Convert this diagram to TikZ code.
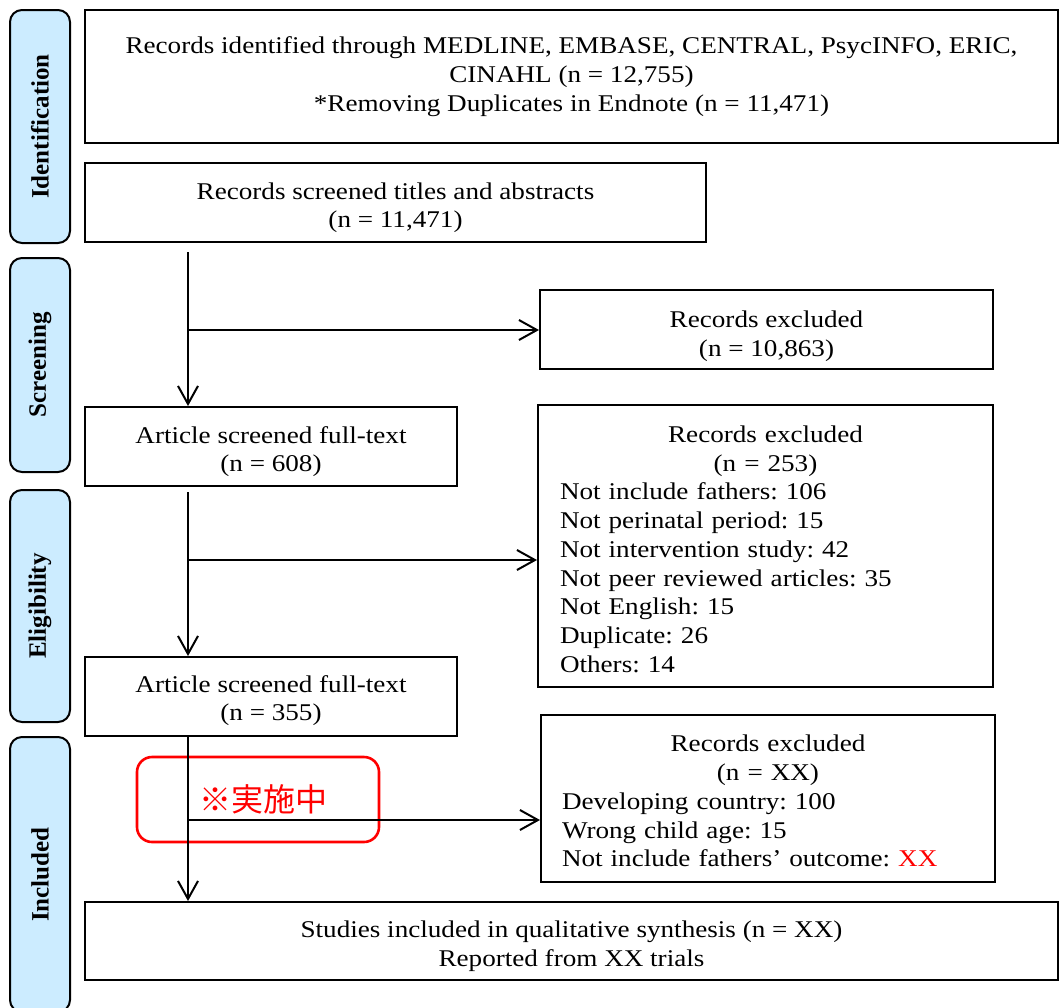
\documentclass[tikz,border=0pt]{standalone}
\usepackage{fontspec}
\setmainfont{Liberation Serif}[FakeStretch=1.13]
\newfontfamily\phasefont{Liberation Serif}
\newfontfamily\cjk{Noto Sans CJK JP}
\usetikzlibrary{arrows.meta}
\definecolor{phaseblue}{RGB}{204,236,255}
\definecolor{wipred}{RGB}{255,0,0}
\newcommand\tstr[1]{\rule{0pt}{#1}}
\frenchspacing
\begin{document}
\frenchspacing
\begin{tikzpicture}[x=0.5pt,y=-0.5pt,
  box/.style={draw,line width=1pt,inner sep=0pt,align=center,
    font=\fontsize{12}{14.35}\selectfont},
  listbox/.style={box,align=left},
  phase/.style={draw,line width=1pt,rounded corners=6pt,fill=phaseblue,
    rotate=90,minimum height=30pt,inner sep=0pt,
    font=\phasefont\bfseries\fontsize{12.5}{14}\selectfont},
  arr/.style={line width=1pt,-{Straight Barb[length=9pt,width=10pt,line width=1pt]}},
  wip/.style={draw=wipred,line width=1.3pt,rounded corners=7.5pt,text=wipred,
    font=\cjk\fontsize{16}{18}\selectfont,inner sep=0pt}]
\useasboundingbox (0,0) rectangle (1064,1007);
\clip (0,0) rectangle (1064,1007);

% phase bars
\node[phase,minimum width=116.5pt] (pid) at (40,126.5) {Identification};
\node[phase,minimum width=107pt] (psc) at (40,365) {Screening};
\node[phase,minimum width=116pt] (pel) at (40,606) {Eligibility};
\node[phase,minimum width=137.5pt] (pin) at (40,874.5) {Included};

% boxes
\node[box,minimum width=486.5pt,minimum height=66.5pt] (ident) at (571.5,76.5)
  {Records identified through MEDLINE, EMBASE, CENTRAL, PsycINFO, ERIC,\\
   CINAHL (n = 12,755)\\ *Removing Duplicates in Endnote (n = 11,471)};
\node[box,minimum width=310.5pt,minimum height=39.5pt] (scr) at (395.5,202.5)
  {\tstr{13.5pt}Records screened titles and abstracts\\(n = 11,471)};
\node[box,minimum width=226.5pt,minimum height=39.5pt] (ex1) at (766.5,329.5)
  {\tstr{15pt}Records excluded\\(n = 10,863)};
\node[box,minimum width=186pt,minimum height=39.5pt] (full1) at (271,446.5)
  {\tstr{13.5pt}Article screened full-text\\(n = 608)};
\node[listbox,minimum width=227.5pt,minimum height=141pt,text width=205.5pt] (ex2) at (765.5,546)
  {\makebox[\linewidth]{\tstr{11.5pt}Records excluded}\\
   \makebox[\linewidth]{(n = 253)}\\
   Not include fathers: 106\\
   Not perinatal period: 15\\
   Not intervention study: 42\\
   Not peer reviewed articles: 35\\
   Not English: 15\\
   Duplicate: 26\\
   Others: 14};
\node[box,minimum width=186pt,minimum height=39.5pt] (full2) at (271,696.5)
  {\tstr{12.5pt}Article screened full-text\\(n = 355)};
\node[listbox,minimum width=227pt,minimum height=83.5pt,text width=206pt] (ex3) at (768,798.5)
  {\makebox[\linewidth]{\tstr{11pt}Records excluded}\\
   \makebox[\linewidth]{(n = XX)}\\
   Developing country: 100\\
   Wrong child age: 15\\
   Not include fathers' outcome: \textcolor{wipred}{XX}};
\node[box,minimum width=486.5pt,minimum height=39pt] (final) at (571.5,941)
  {\tstr{13.5pt}Studies included in qualitative synthesis (n = XX)\\Reported from XX trials};

% red note
\node[wip,minimum width=121pt,minimum height=42.5pt] (note) at (258,799.5)
  {\hspace*{5pt}※実施中};

% connectors
\coordinate (v1) at (188,252);
\coordinate (b1) at (188,330);
\draw[arr] (v1) -- (v1 |- full1.north);
\draw[arr] (b1) -- (b1 -| ex1.west);

\coordinate (v2) at (188,492);
\coordinate (b2) at (188,560);
\draw[arr] (v2) -- (v2 |- full2.north);
\draw[arr] (b2) -- (b2 -| ex2.west);

\coordinate (v3) at (188,736);
\coordinate (b3) at (188,820);
\draw[arr] (v3) -- (v3 |- final.north);
\draw[arr] (b3) -- (b3 -| ex3.west);
\end{tikzpicture}
\end{document}
